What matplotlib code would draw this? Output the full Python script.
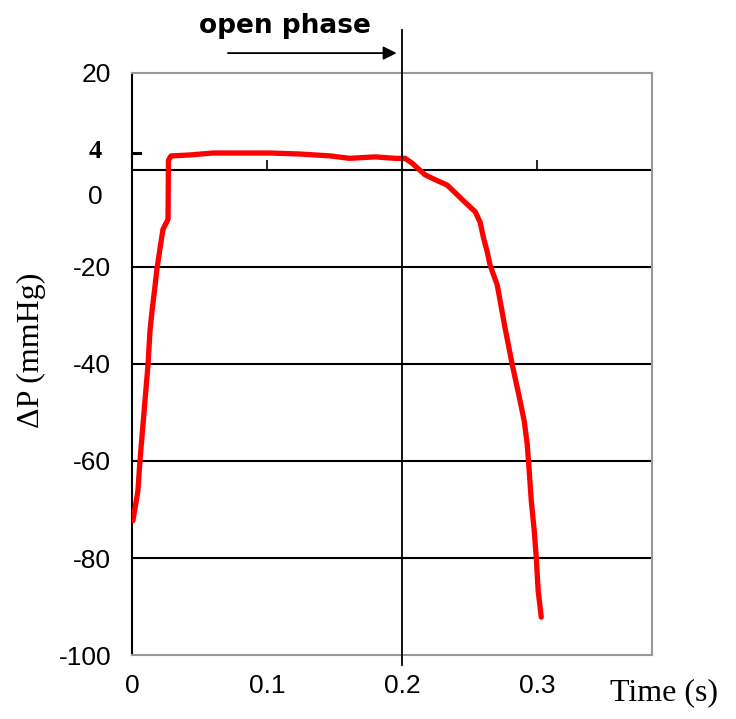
import matplotlib
matplotlib.use("Agg")
import matplotlib.pyplot as plt

# pressure difference across the valve
time_s = [0.0007, 0.0044, 0.0059, 0.0096, 0.0119, 0.0133, 0.0148, 0.0170, 0.0185,
          0.0207, 0.0230, 0.0267, 0.0270, 0.0289, 0.043, 0.060, 0.080, 0.102,
          0.124, 0.147, 0.161, 0.180, 0.195, 0.2022, 0.2074, 0.217, 0.2244,
          0.2333, 0.2393, 0.2467, 0.2541, 0.2578, 0.260, 0.263, 0.2652, 0.2704,
          0.2763, 0.2815, 0.2874, 0.2904, 0.2926, 0.2941, 0.2956, 0.2978, 0.2993,
          0.3007, 0.3030]
dp_mmhg = [-72.3, -66.2, -60.0, -47.7, -40.1, -33.3, -29.2, -24.1, -20.4,
           -16.3, -12.2, -10.2, 2.0, 2.9, 3.1, 3.5, 3.5, 3.5,
           3.3, 2.9, 2.4, 2.7, 2.4, 2.4, 1.4, -1.0, -2.0,
           -3.1, -4.7, -6.7, -8.6, -10.8, -13.7, -16.9, -19.7, -23.7,
           -32.7, -40.1, -47.7, -51.8, -56.5, -62.1, -68.2, -74.4, -79.9,
           -86.7, -92.2]

y_ticks = [-100, -80, -60, -40, -20, 20]
x_ticks = [0, 0.1, 0.2, 0.3]
x_tick_labels = ["0", "0.1", "0.2", "0.3"]
open_end = 0.2

fig = plt.figure(figsize=(7.36, 7.19), dpi=100)
ax = fig.add_axes([0.1793, 0.089, 0.7066, 0.8095])
ax.set_xlim(0, 0.385)
ax.set_ylim(-100, 20)

# horizontal grid (0 line included, drawn black like the original)
for v in [-80, -60, -40, -20, 0]:
    ax.axhline(v, color="black", lw=1.5, zorder=1)

ax.plot(time_s, dp_mmhg, color="#ff0000", lw=3.8, solid_capstyle="round",
        solid_joinstyle="round", zorder=3)

for side in ["top", "right", "bottom"]:
    ax.spines[side].set_color("#999999")
    ax.spines[side].set_linewidth(1.5)
ax.spines["left"].set_color("black")
ax.spines["left"].set_linewidth(1.5)

tick_font = {"family": "Liberation Sans", "size": 19}
ax.set_yticks(y_ticks)
ax.set_yticklabels([str(v) for v in y_ticks], fontdict=tick_font)
ax.tick_params(axis="y", length=0, pad=15)
ax.set_xticks(x_ticks)
ax.set_xticklabels(x_tick_labels, fontdict=tick_font)
ax.tick_params(axis="x", length=0, pad=14)

# the "0" label sits a bit below its line, plus an extra "4" mark
ax.text(-0.0215, -5.6, "0", ha="right", va="center", fontdict=tick_font)
ax.text(-0.022, 3.8, "4", ha="right", va="center", family="Liberation Serif",
        size=19, weight="bold")
ax.plot([0, 0.006], [3.6, 3.6], color="black", lw=2.2, clip_on=False)

# small x ticks standing on the zero line
ax.vlines([0.1, 0.3], 0, 2, color="black", lw=1.2)

# end of the open phase
ax.plot([open_end, open_end], [28.8, -102], color="black", lw=1.3, clip_on=False, zorder=4)
ax.annotate("", xy=(open_end - 0.002, 24.1), xytext=(0.069, 24.1),
            arrowprops=dict(arrowstyle="-|>", color="black", lw=1.3, mutation_scale=20),
            annotation_clip=False)
ax.text(0.113, 29.6, "open phase", ha="center", va="center", family="DejaVu Sans",
        size=19, weight="bold")

ax.set_ylabel("ΔP (mmHg)", family="Liberation Serif", size=23)
ax.yaxis.set_label_coords(-0.165, 0.524)
ax.text(0.919, -0.0645, "Time (s)", transform=ax.transAxes, ha="left", va="center",
        family="Liberation Serif", size=23)

fig.savefig("out.png", dpi=100)
